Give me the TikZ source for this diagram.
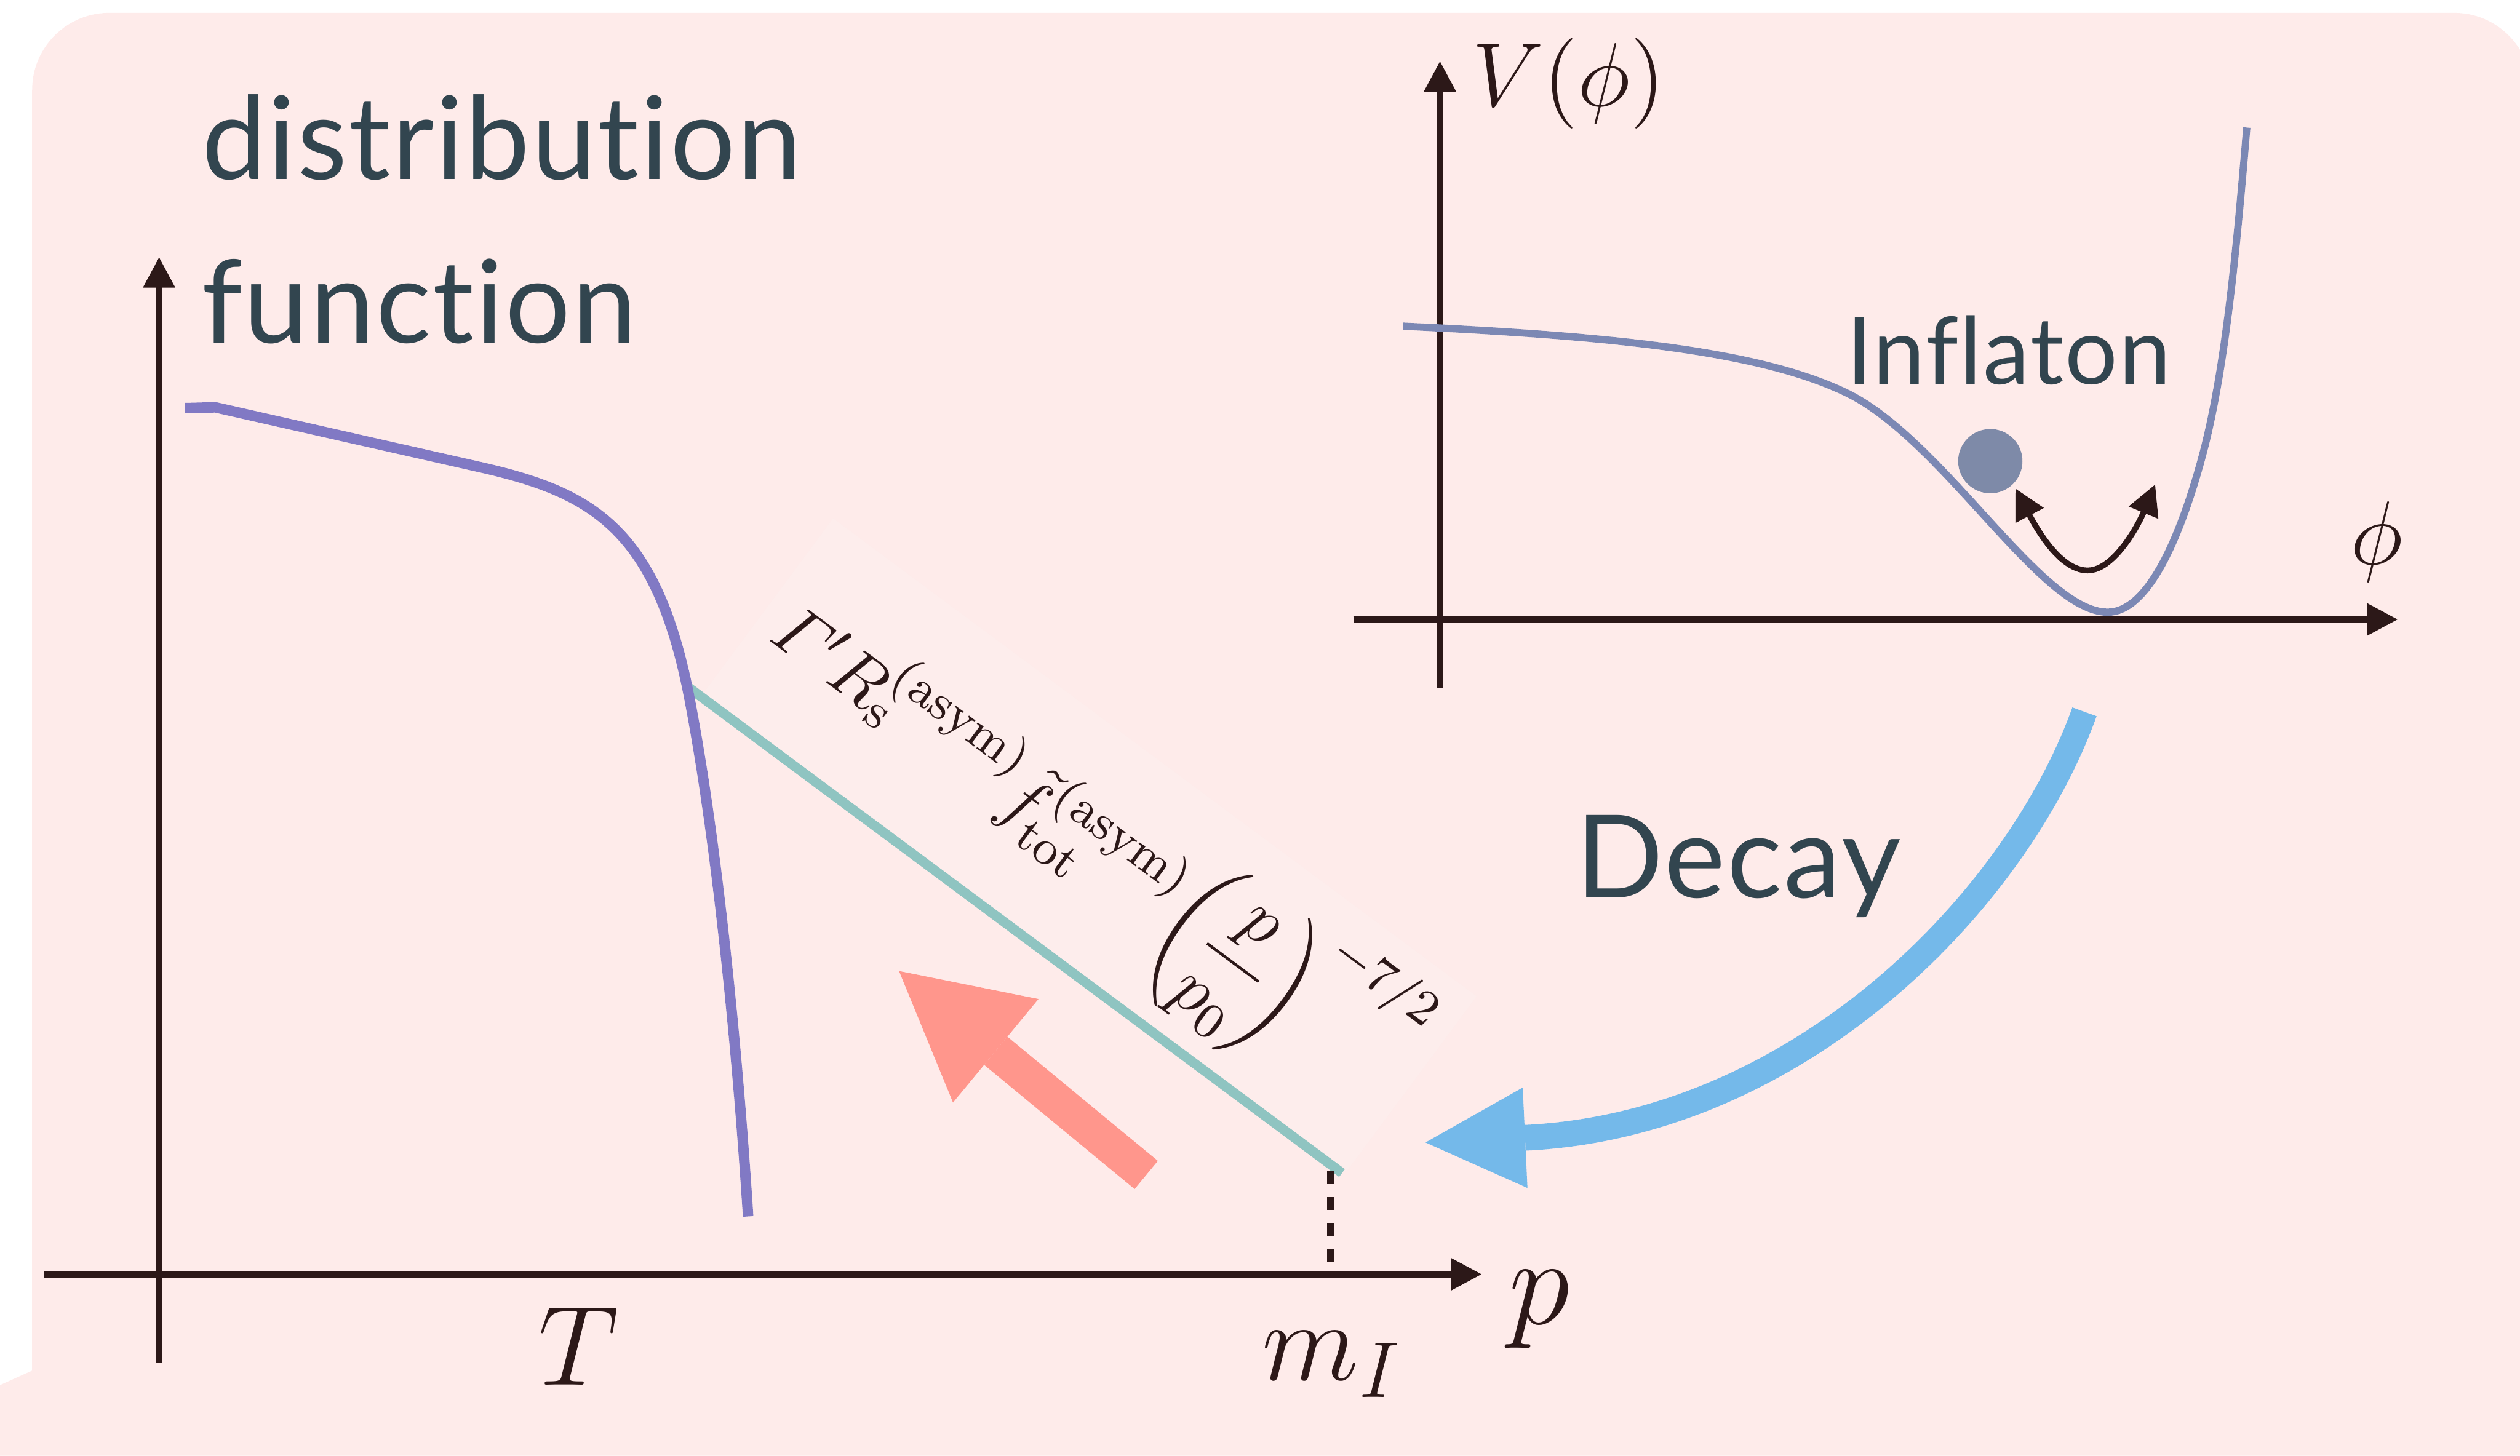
\RequirePackage{fix-cm}
\documentclass[tikz,border=0pt]{standalone}
\usepackage{amsmath}
\usepackage{fontspec}
\usepackage{xcolor}
\usetikzlibrary{arrows.meta}

\newfontfamily\lblfont[Ligatures={CommonOff,ContextualOff}, LetterSpace=1.5]{Lato}

\definecolor{bgpink}{HTML}{FEEBEA}
\definecolor{labelbg}{HTML}{FDEDEC}
\definecolor{axiscol}{HTML}{2C1818}
\definecolor{textcol}{HTML}{32454F}
\definecolor{curvepurple}{HTML}{8179C4}
\definecolor{tealline}{HTML}{8FC4C1}
\definecolor{potblue}{HTML}{7C88B4}
\definecolor{ballblue}{HTML}{7E8AA8}
\definecolor{salmon}{HTML}{FF968C}
\definecolor{decayblue}{HTML}{74B9EA}

\begin{document}
\begin{tikzpicture}[x=0.1mm, y=-0.1mm,
        axis/.style={draw=axiscol, line width=0.39mm, -{Triangle[length=1.9mm,width=1.9mm]}},
        dashline/.style={draw=axiscol, line width=0.42mm, dash pattern=on 0.78mm off 0.83mm},
        lbl/.style={inner sep=0pt, text=textcol, font=\lblfont\fontsize{20.4}{24}\selectfont},
        sym/.style={inner sep=0pt, text=axiscol, font=\fontsize{20}{24}\selectfont},
        bigarrow/.style={line width=#1}
    ]
        \useasboundingbox (0,0) rectangle (1568,906);
        \clip (0,0) rectangle (1568,906);

        % background panel
        \fill[bgpink] (0,906) -- (0,862) -- (20,853) -- (20,56) .. controls (20,29.5) and (41.5,8) .. (68,8)
            -- (1527,8) .. controls (1553.5,8) and (1575,29.5) .. (1575,56) -- (1575,906) -- cycle;

        % distribution function plot
        \coordinate (xl0) at (27,793);
        \coordinate (xl1) at (922,793);
        \coordinate (yl0) at (99,848);
        \coordinate (yl1) at (99,160);
        \draw[axis] (xl0) -- (xl1);
        \draw[axis] (yl0) -- (yl1);

        \node[rotate=-36.6, fill=labelbg, inner sep=1.2mm, text=axiscol,
              font=\fontsize{12.6}{15}\selectfont] (rate) at (678,526)
            {\nulldelimiterspace=0pt$\varGamma' R_{\mathrm{s}}^{(\mathrm{asym})}\tilde{f}_{\mathrm{tot}}^{(\mathrm{asym})}\!\left(\dfrac{p}{p_0}\right)^{\!-7/2}$};

        \coordinate (tstart) at (426,426);
        \coordinate (tend) at (835,730);
        \draw[tealline, line width=0.6mm] (tstart) -- (tend);
        \draw[curvepurple, line width=0.65mm] (115,254) -- (134,253.5) -- (300,291)
            .. controls (370,307) and (410,330) .. (430,440)
            .. controls (445,520) and (458,640) .. (465.5,757);

        \coordinate (mtop) at (828,729);
        \draw[dashline] (mtop) -- (mtop |- xl0);

        \node[sym] (T) at (360,838) {$T$};
        \node[sym] (mI) at (829,849) {$m_I$};
        \node[sym, font=\fontsize{22}{26}\selectfont] (p) at (958,815) {$p$};

        \node[lbl, anchor=base west] (dist) at (125,111.6) {distribution};
        \node[lbl, anchor=base west] (func) at (125,213.5) {function};

        % shift towards high momentum
        \coordinate (stail) at (713.2,731.2);
        \coordinate (stip) at (559.4,604.3);
        \draw[salmon, bigarrow=2.27mm, -{Triangle[length=7.8mm,width=8.35mm,line width=0pt]}] (stail) -- (stip);

        % potential plot
        \coordinate (xr0) at (842,385.5);
        \coordinate (xr1) at (1492,385.5);
        \coordinate (yr0) at (896,428);
        \coordinate (yr1) at (896,38);
        \draw[axis] (xr0) -- (xr1);
        \draw[axis] (yr0) -- (yr1);
        \draw[potblue, line width=0.45mm] (873,203) .. controls (1000,209) and (1095,218) .. (1150,245)
            .. controls (1210,275) and (1270,381) .. (1311.5,381)
            .. controls (1335,381) and (1355,340) .. (1370,285)
            .. controls (1385,230) and (1392,150) .. (1398,79.4);

        \node[circle, fill=ballblue, minimum size=4mm, inner sep=0pt] (ball) at (1238.4,287) {};
        \coordinate (oscl) at (1254,304);
        \coordinate (oscr) at (1341,301.5);
        \draw[axiscol, line width=0.36mm, {Triangle[length=1.9mm,width=1.9mm]}-{Triangle[length=1.9mm,width=1.9mm]}]
            (oscl) .. controls (1272,338) and (1285,355) .. (1299,355)
            .. controls (1315,355) and (1330,328) .. (oscr);

        \node[sym, font=\fontsize{16}{19}\selectfont] (V) at (976,52) {$V(\phi)$};
        \node[sym, font=\fontsize{16}{19}\selectfont] (phi) at (1479,337) {$\phi$};
        \node[lbl, anchor=base, font=\lblfont\fontsize{16.5}{20}\selectfont] (infl) at (1250,239) {Inflaton};

        % decay arrow
        \coordinate (dstart) at (1297,443);
        \coordinate (dtip) at (887,711);
        \draw[decayblue, bigarrow=1.6mm, -{Triangle[length=6.2mm,width=6.25mm,line width=0pt]}]
            (dstart) .. controls (1255,560) and (1120,700) .. (dtip);
        \node[lbl, anchor=base west] (decay) at (980,558.6) {Decay};
    \end{tikzpicture}
\end{document}
